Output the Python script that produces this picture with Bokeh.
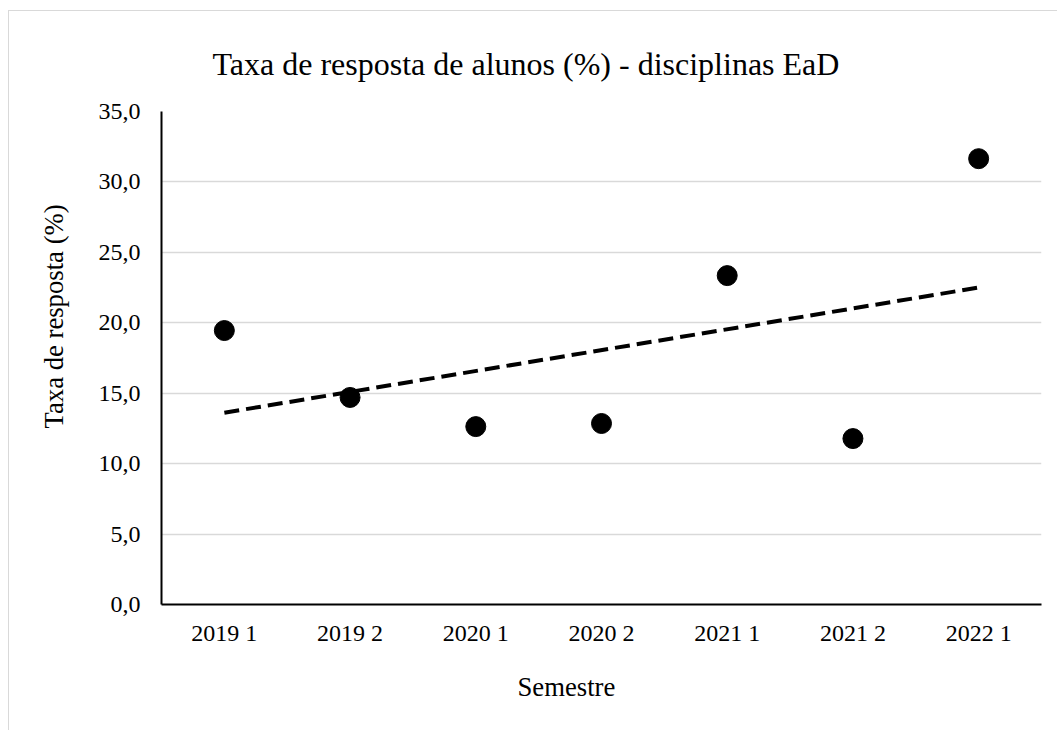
import numpy as np
from bokeh.plotting import figure
from bokeh.models import (ColumnDataSource, Range1d, FixedTicker, CustomJSTickFormatter, Title)
from bokeh.embed import file_html
from bokeh.resources import INLINE

# ---- data ----
semesters = ["2019 1", "2019 2", "2020 1", "2020 2", "2021 1", "2021 2", "2022 1"]
response_rate = [19.45, 14.7, 12.63, 12.85, 23.35, 11.78, 31.65]
y_ticks = [0, 5, 10, 15, 20, 25, 30, 35]

title_text = "Taxa de resposta de alunos (%) - disciplinas EaD"
x_label = "Semestre"
y_label = "Taxa de resposta (%)"

FONT = "Liberation Serif"

# linear trend (least squares over semester index)
idx = np.arange(1, len(semesters) + 1)
slope, intercept = np.polyfit(idx, response_rate, 1)
trend_x = [semesters[0], semesters[-1]]
trend_y = [slope * idx[0] + intercept, slope * idx[-1] + intercept]

p = figure(
    x_range=semesters,
    y_range=Range1d(0, 35),
    width=1049, height=720,
    min_border_left=152, min_border_right=17,
    min_border_top=100, min_border_bottom=127,
    output_backend="svg", toolbar_location=None,
    title=None,
)
p.styles = {"border-top": "1px solid #d9d9d9", "border-left": "1px solid #d9d9d9",
            "margin-top": "10px", "margin-left": "8px"}

p.outline_line_color = None
p.background_fill_color = "white"
p.border_fill_color = "white"

# chart title
t = Title(text=title_text, align="left", text_font=FONT, text_font_size="32px",
          text_font_style="normal", text_color="black", standoff=59, offset=51)
p.add_layout(t, "above")

# axis titles (as titles so they can be offset like the original)
xt = Title(text=x_label, align="left", text_font=FONT, text_font_size="26.7px",
           text_font_style="normal", text_color="black", standoff=42, offset=356)
p.add_layout(xt, "below")
yt = Title(text=y_label, align="left", text_font=FONT, text_font_size="26.7px",
           text_font_style="normal", text_color="black", standoff=54, offset=176)
p.add_layout(yt, "left")

# grid
p.xgrid.grid_line_color = None
p.ygrid.grid_line_color = "#d9d9d9"
p.ygrid.grid_line_width = 1.3

# axes
p.yaxis.ticker = FixedTicker(ticks=y_ticks)
p.yaxis.formatter = CustomJSTickFormatter(code="return tick.toFixed(1).replace('.', ',');")
for ax in (p.xaxis[0], p.yaxis[0]):
    ax.axis_line_color = "black"
    ax.axis_line_width = 2
    ax.major_tick_line_color = None
    ax.minor_tick_line_color = None
    ax.major_label_text_font = FONT
    ax.major_label_text_font_size = "24px"
    ax.major_label_text_color = "black"

p.xaxis.major_label_standoff = 9
p.yaxis.major_label_standoff = 15
p.x_range.range_padding = 0

# trend line
p.line(trend_x, trend_y, line_color="black", line_width=4, line_dash="15 7")

# points
src = ColumnDataSource(dict(x=semesters, y=response_rate))
p.scatter("x", "y", source=src, size=20, fill_color="black", line_color="black")

open("out.html", "w").write(file_html(p, INLINE))
